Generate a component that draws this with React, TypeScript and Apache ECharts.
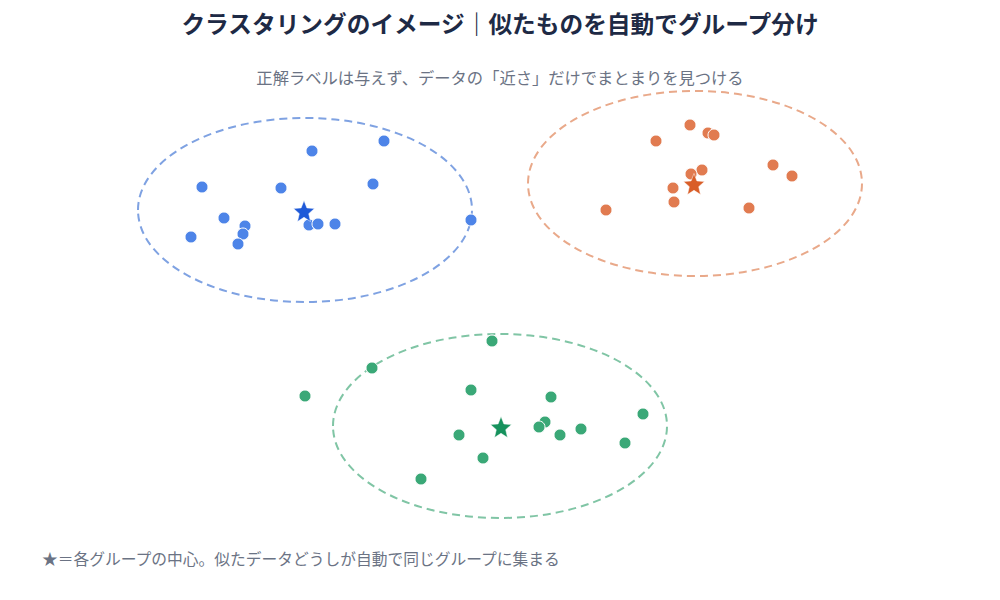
import React, { useEffect, useRef } from "react";
import * as echarts from "echarts";

const titleText = "クラスタリングのイメージ｜似たものを自動でグループ分け";
const subtitleText = "正解ラベルは与えず、データの「近さ」だけでまとまりを見つける";
const footnoteText = "★＝各グループの中心。似たデータどうしが自動で同じグループに集まる";

const groupNames = ["グループA", "グループB", "グループC"];

const blueX = [2.84, 2.12, 1.02, 1.81, 2.73, 1.24, 1.45, 1.43, 1.38, 0.91, 2.09, 2.18, 2.35, 3.71];
const blueY = [3.79, 3.69, 3.33, 3.32, 3.36, 3.02, 2.94, 2.86, 2.76, 2.83, 2.95, 2.96, 2.96, 3.0];

const orangeX = [5.9, 6.08, 6.14, 5.56, 6.02, 5.91, 5.73, 5.74, 5.06, 6.49, 6.73, 6.92];
const orangeY = [3.95, 3.87, 3.85, 3.79, 3.5, 3.46, 3.32, 3.18, 3.1, 3.12, 3.55, 3.44];

const greenX = [3.92, 2.72, 2.05, 3.71, 4.51, 5.43, 4.45, 4.39, 4.6, 4.81, 3.59, 5.25, 3.83, 3.21];
const greenY = [1.79, 1.52, 1.24, 1.3, 1.23, 1.06, 0.98, 0.93, 0.85, 0.91, 0.85, 0.77, 0.62, 0.41];

const centerX = [2.04, 5.94, 4.01];
const centerY = [3.09, 3.36, 0.93];

const ellipseCx = [2.05, 5.95, 4.0];
const ellipseCy = [3.1, 3.365, 0.94];
const ellipseRx = [1.67, 1.67, 1.67];
const ellipseRy = [0.92, 0.925, 0.92];

const pointColors = ["#4d84e8", "#e17b50", "#3aa877"];
const starColors = ["#1f5ad8", "#d95e28", "#16925d"];
const ellipseColors = ["#7fa2e2", "#e9a98a", "#80c5a5"];

const STAR =
  "path://M12,1.5 L14.9,8.6 L22.5,9.2 L16.7,14.1 L18.5,21.6 L12,17.6 L5.5,21.6 L7.3,14.1 L1.5,9.2 L9.1,8.6 Z";

const zip = (xs: number[], ys: number[]) => xs.map((x, i) => [x, ys[i]]);

export default function App() {
  const ref = useRef<HTMLDivElement>(null);
  useEffect(() => {
    document.body.style.margin = "0";
    if (!ref.current) return;
    const chart = echarts.init(ref.current, null, { renderer: "svg" });
    const groups = [zip(blueX, blueY), zip(orangeX, orangeY), zip(greenX, greenY)];
    const font = '"Noto Sans CJK JP", "Noto Sans", sans-serif';
    chart.setOption({
      animation: false,
      backgroundColor: "#ffffff",
      textStyle: { fontFamily: font },
      title: [
        {
          text: titleText,
          left: "center",
          top: 6,
          textStyle: { fontSize: 23.7, fontWeight: "bold", color: "#1e2a45", fontFamily: font },
        },
        {
          text: subtitleText,
          left: "center",
          top: 64,
          textStyle: { fontSize: 16.3, fontWeight: "normal", color: "#6b7384", fontFamily: font },
        },
      ],
      graphic: [
        {
          type: "text",
          left: 42,
          top: 551,
          style: { text: footnoteText, fontSize: 15.75, fill: "#6b7384", fontFamily: font },
        },
      ],
      grid: { left: 100, right: 100, top: 80, bottom: 80 },
      xAxis: { type: "value", min: 0, max: 8, show: false },
      yAxis: { type: "value", min: 0, max: 4.4, show: false },
      series: [
        {
          type: "custom",
          z: 1,
          silent: true,
          data: ellipseCx.map((cx, i) => [cx, ellipseCy[i], ellipseRx[i], ellipseRy[i]]),
          renderItem: (params: any, api: any) => {
            const c = api.coord([api.value(0), api.value(1)]);
            const s = api.size([api.value(2), api.value(3)]);
            return {
              type: "ellipse",
              shape: { cx: c[0], cy: c[1], rx: s[0], ry: s[1] },
              style: {
                fill: "none",
                stroke: ellipseColors[params.dataIndex],
                lineWidth: 2,
                lineDash: [8, 5],
              },
            };
          },
        },
        ...groups.map((d, i) => ({
          type: "scatter",
          name: groupNames[i],
          z: 2,
          data: d,
          symbol: "circle",
          symbolSize: 12,
          itemStyle: { color: pointColors[i], borderColor: "#ffffff", borderWidth: 1, opacity: 1 },
        })),
        {
          type: "scatter",
          name: "中心",
          z: 3,
          data: centerX.map((x, i) => ({
            value: [x, centerY[i]],
            itemStyle: { color: starColors[i], opacity: 1 },
          })),
          symbol: STAR,
          symbolSize: 21,
          itemStyle: { borderColor: "#ffffff", borderWidth: 0.5, opacity: 1 },
        },
      ],
    });
    return () => chart.dispose();
  }, []);
  return <div ref={ref} style={{ width: 1000, height: 600 }} />;
}
